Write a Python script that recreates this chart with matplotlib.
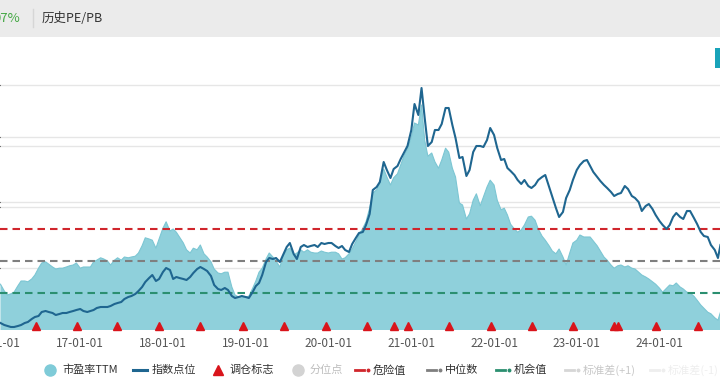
import matplotlib
matplotlib.use('Agg')
import matplotlib.pyplot as plt
import matplotlib.dates as mdates
import matplotlib.transforms as mtransforms
from matplotlib.lines import Line2D
from matplotlib.patches import Rectangle
import pandas as pd

plt.rcParams['font.family'] = ['Noto Sans CJK SC', 'DejaVu Sans']

# ---------------- data ----------------
dates = pd.date_range('2016-01-15', '2024-09-15', freq='SMS').append(pd.DatetimeIndex(['2024-09-26']))

pe_ttm = [
    # 2016
    21.2, 19.5, 18.5, 18.8, 19.2, 20.8, 22.0, 22.0, 21.8, 22.5, 23.5, 25.2, 26.5, 26.8, 26.2, 25.5, 25.0, 25.2, 25.2, 25.5, 25.8, 26.0, 26.5,
    # 2017
    25.2, 25.5, 25.5, 25.5, 26.8, 27.2, 27.8, 27.5, 27.0, 26.0, 27.2, 27.8, 27.2, 28.0, 27.8, 28.0, 28.2, 29.0, 30.8, 32.8, 32.5, 32.2, 30.2, 32.5,
    # 2018
    35.2, 36.8, 34.5, 35.0, 34.2, 33.0, 31.5, 29.8, 29.0, 30.2, 29.8, 31.0, 28.8, 28.0, 26.8, 25.0, 24.0, 23.8, 24.2, 24.2, 20.5, 18.5, 18.0, 17.8,
    # 2019
    18.0, 18.2, 20.2, 22.0, 24.2, 25.2, 27.5, 29.0, 28.0, 27.0, 25.5, 28.2, 29.8, 30.2, 28.5, 29.0, 29.8, 29.2, 29.8, 29.2, 29.0, 29.0, 29.5, 29.2,
    # 2020
    29.0, 29.2, 29.2, 28.8, 27.5, 27.8, 28.8, 30.0, 31.8, 33.5, 35.2, 36.8, 40.2, 44.0, 44.8, 46.5, 50.0, 48.0, 46.0, 47.8, 48.8, 51.0, 53.5, 55.0,
    # 2021
    58.0, 61.5, 61.0, 66.0, 57.2, 53.2, 54.0, 51.8, 50.2, 52.2, 55.2, 54.2, 50.2, 48.0, 41.5, 41.0, 37.5, 38.8, 42.2, 43.8, 40.8, 43.0, 45.5, 47.2,
    # 2022
    46.0, 42.2, 39.8, 40.2, 38.5, 36.2, 35.0, 34.2, 34.8, 36.0, 38.0, 38.2, 37.2, 35.0, 33.2, 32.2, 30.8, 29.5, 28.8, 30.0, 28.0, 26.0, 29.0, 31.5,
    # 2023
    32.2, 33.5, 33.0, 33.0, 33.0, 32.0, 30.8, 29.5, 28.0, 27.2, 26.0, 25.2, 25.8, 26.0, 25.5, 25.8, 25.2, 25.0, 24.2, 23.5, 23.0, 22.5, 21.8, 21.2,
    # 2024
    20.2, 19.2, 20.2, 21.0, 20.8, 21.5, 20.5, 20.0, 19.2, 19.0, 18.2, 17.2, 16.0, 15.2, 14.2, 13.8, 12.8, 12.2, 14.2,
]

index_points = [
    # 2016
    3180, 3140, 3120, 3100, 3100, 3120, 3140, 3180, 3200, 3260, 3300, 3320, 3400, 3420, 3400, 3380, 3340, 3360, 3380, 3380, 3400, 3420, 3440,
    # 2017
    3460, 3420, 3400, 3420, 3440, 3480, 3500, 3500, 3500, 3520, 3560, 3580, 3600, 3660, 3700, 3720, 3760, 3820, 3900, 4000, 4080, 4140, 4020, 4060,
    # 2018
    4200, 4280, 4240, 4060, 4100, 4080, 4060, 4040, 4100, 4180, 4260, 4300, 4260, 4220, 4120, 3940, 3860, 3840, 3880, 3840, 3720, 3680, 3700, 3720,
    # 2019
    3700, 3680, 3800, 3920, 3980, 4140, 4400, 4480, 4460, 4480, 4400, 4540, 4700, 4780, 4560, 4460, 4700, 4740, 4700, 4720, 4740, 4700, 4780, 4760,
    # 2020
    4780, 4780, 4720, 4680, 4720, 4640, 4600, 4760, 4880, 4980, 5000, 5140, 5360, 5840, 5900, 6000, 6400, 6240, 6080, 6260, 6320, 6460, 6600, 6720,
    # 2021
    7040, 7560, 7340, 7880, 7280, 6720, 6800, 7040, 7040, 7160, 7480, 7480, 7140, 6880, 6480, 6500, 6120, 6240, 6600, 6720, 6720, 6700, 6840, 7080,
    # 2022
    6940, 6680, 6440, 6460, 6280, 6220, 6140, 6040, 5960, 6040, 5920, 5880, 5940, 6040, 6100, 6140, 5900, 5700, 5480, 5300, 5400, 5680, 5840, 6040,
    # 2023
    6240, 6340, 6420, 6440, 6320, 6200, 6100, 6020, 5940, 5880, 5800, 5720, 5760, 5780, 5920, 5860, 5720, 5680, 5600, 5420, 5520, 5560, 5460, 5340,
    # 2024
    5220, 5140, 5060, 5140, 5300, 5380, 5300, 5260, 5420, 5420, 5280, 5160, 5000, 4920, 4900, 4740, 4640, 4480, 4740,
]

rebalance_dates = [
    '2016-06-20', '2016-12-16', '2017-06-13', '2017-12-14', '2018-06-14', '2018-12-19',
    '2019-06-19', '2019-12-20', '2020-06-19', '2020-10-16', '2020-12-16', '2021-06-16',
    '2021-12-17', '2022-06-17', '2022-12-14', '2023-06-14', '2023-07-01', '2023-12-15',
    '2024-06-21',
]

danger_value = 35.0
median_value = 27.0
chance_value = 19.0

x_tick_dates = ['2016-01-01', '2017-01-01', '2018-01-01', '2019-01-01', '2020-01-01',
                '2021-01-01', '2022-01-01', '2023-01-01', '2024-01-01']

header_change = '07%'
header_tab = '历史PE/PB'
legend_labels = ['市盈率TTM', '指数点位', '调仓标志', '分位点', '危险值', '中位数', '机会值', '标准差(+1)', '标准差(-1)']

# ---------------- layout ----------------
W, H = 720, 380
fig = plt.figure(figsize=(7.2, 3.8), dpi=100)
fig.patch.set_facecolor('white')

def fx(px):
    return px / W

def fy(py):
    return 1 - py / H

# header band
fig.patches.append(Rectangle((0, fy(37)), 1, 37 / H, transform=fig.transFigure,
                             facecolor='#ebebeb', edgecolor='none', zorder=0))
fig.text(fx(20), fy(18), header_change, ha='right', va='center', fontsize=9.5, color='#45a845')
fig.add_artist(Line2D([fx(33), fx(33)], [fy(9), fy(27)], color='#d6d6d6', lw=1))
fig.text(fx(42), fy(18), header_tab, ha='left', va='center', fontsize=9, color='#333333')
# button edge at top right
fig.patches.append(Rectangle((fx(715), fy(68)), fx(12), 20 / H, transform=fig.transFigure,
                             facecolor='#19a3b9', edgecolor='none', zorder=1))

# main axes
top_px, bot_px = 38, 330
ax = fig.add_axes([0, fy(bot_px), 1, (bot_px - top_px) / H])
ax.set_xlim(pd.Timestamp('2016-01-13'), pd.Timestamp('2024-09-24'))
ax.set_ylim(9.75, 82.75)
for s in ax.spines.values():
    s.set_visible(False)

# grid lines (both axes' grids, drawn behind the area)
ax.set_yticks([25.25, 40.5, 41.75, 55.75, 58.0, 71.0])
ax.yaxis.grid(True, color='#e6e6e6', lw=1)
ax.set_axisbelow(True)
ax.tick_params(axis='y', left=False, labelleft=False)

ax.fill_between(dates, pe_ttm, 0, facecolor='#8fd0db', edgecolor='none', zorder=2)
ax.plot(dates, pe_ttm, color='#7cc6d3', lw=0.8, zorder=2.1)

dash = (3.6, 2.4)
ax.axhline(danger_value, color='#d0262c', lw=1.5, dashes=dash, zorder=3)
ax.axhline(median_value, color='#7f7f7f', lw=1.5, dashes=dash, zorder=3)
ax.axhline(chance_value, color='#2b8f70', lw=1.5, dashes=dash, zorder=3)

reb = pd.to_datetime(rebalance_dates)
ax.plot(reb, [0.014] * len(reb), ls='none', marker='^', ms=6, color='#d9141b',
        transform=ax.get_xaxis_transform(), zorder=6, clip_on=False)

# x ticks
ticks = pd.to_datetime(x_tick_dates)
ax.set_xticks(ticks[1:])
ax.xaxis.set_major_formatter(mdates.DateFormatter('%y-%m-%d'))
ax.tick_params(axis='x', length=0, pad=5, labelsize=8.5, labelcolor='#555555')
ax.text(ticks[0], 0, ticks[0].strftime('%y-%m-%d'),
        transform=mtransforms.offset_copy(ax.get_xaxis_transform(), fig=fig, y=-5, units='points'),
        ha='center', va='top', fontsize=8.5, color='#555555', clip_on=False)

# index line on twin axis
ax2 = ax.twinx()
ax2.set_ylim(3040, 8880)
for s in ax2.spines.values():
    s.set_visible(False)
ax2.tick_params(axis='y', right=False, labelright=False)
ax2.plot(dates, index_points, color='#1f6690', lw=1.5, zorder=4)

# ---------------- legend ----------------
ly = fy(370)
fs = 8

def ltext(px, s, color='#333333'):
    fig.text(fx(px), ly, s, ha='left', va='center', fontsize=fs, color=color)

fig.add_artist(Line2D([fx(50)], [ly], marker='o', ms=8, color='#7fcbd8', ls='none'))
ltext(62, legend_labels[0])
fig.add_artist(Line2D([fx(133), fx(147)], [ly, ly], color='#1f6690', lw=2.2))
ltext(152, legend_labels[1])
fig.add_artist(Line2D([fx(218)], [ly], marker='^', ms=7, color='#d9141b', ls='none'))
ltext(230, legend_labels[2])
fig.add_artist(Line2D([fx(298)], [ly], marker='o', ms=8, color='#d3d3d3', ls='none'))
ltext(310, legend_labels[3], '#bdbdbd')

dash_items = [(355, '#d0262c', legend_labels[4], '#333333'),
              (427, '#7f7f7f', legend_labels[5], '#333333'),
              (496, '#2b8f70', legend_labels[6], '#333333'),
              (565, '#d6d6d6', legend_labels[7], '#c8c8c8'),
              (650, '#eeeeee', legend_labels[8], '#eeeeee')]
for x0, c, lab, tc in dash_items:
    fig.add_artist(Line2D([fx(x0), fx(x0 + 9)], [ly, ly], color=c, lw=2))
    fig.add_artist(Line2D([fx(x0 + 13)], [ly], marker='o', ms=1.8, color=c, ls='none'))
    ltext(x0 + 18, lab, tc)

fig.savefig('out.png', dpi=100, facecolor='white')
